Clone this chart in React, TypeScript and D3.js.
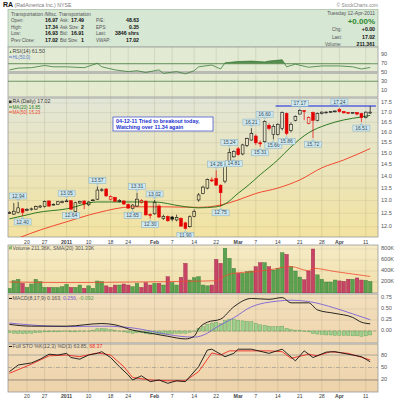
import * as d3 from "d3";

const FONT = "'Liberation Sans', Arial, sans-serif";

// index 0 = 20-Dec-2010, first bar = 14-Dec-2010
const firstIdx = -4;
const opens = [12.52, 12.47, 12.53, 12.67, 12.62, 12.64, 12.66, 12.74, 12.76, 12.98, 12.84, 12.85, 12.91, 12.98, 12.99, 12.57, 12.9, 12.98, 12.83, 13.0, 13.05, 13.4, 13.46, 13.05, 13.12, 12.95, 12.98, 12.84, 12.68, 12.78, 12.92, 12.97, 12.45, 12.48, 12.78, 12.31, 12.38, 12.36, 12.25, 12.31, 12.14, 12.0, 12.38, 13.02, 13.28, 13.5, 13.84, 13.9, 13.62, 13.79, 14.55, 14.85, 15.22, 14.98, 15.38, 15.63, 15.82, 15.5, 15.55, 16.35, 15.9, 15.9, 16.2, 16.95, 16.1, 16.6, 16.92, 17.1, 16.45, 17.0, 16.6, 16.95, 17.0, 17.0, 17.05, 17.15, 17.05, 17.0, 16.98, 17.0, 16.95, 16.75, 16.97];
const highs = [12.58, 12.9, 12.94, 12.7, 12.7, 12.72, 12.8, 12.82, 13.0, 13.0, 12.88, 12.98, 12.99, 13.05, 13.0, 12.95, 12.99, 13.0, 12.97, 13.05, 13.57, 13.5, 13.5, 13.2, 13.15, 13.05, 13.0, 12.88, 12.85, 13.31, 13.05, 13.0, 12.5, 13.02, 12.85, 12.45, 12.42, 12.4, 12.45, 12.35, 12.18, 12.42, 12.65, 13.3, 13.6, 13.9, 13.95, 14.26, 13.65, 14.55, 15.24, 15.15, 15.3, 15.45, 15.75, 16.21, 15.9, 15.6, 16.6, 16.45, 16.4, 16.45, 17.05, 17.0, 16.5, 16.85, 17.17, 17.12, 16.8, 17.05, 17.0, 17.05, 17.06, 17.08, 17.1, 17.24, 17.08, 17.03, 17.02, 17.02, 16.98, 17.05, 17.34];
const lows = [12.48, 12.44, 12.5, 12.4, 12.58, 12.6, 12.63, 12.7, 12.72, 12.74, 12.8, 12.83, 12.89, 12.95, 12.64, 12.55, 12.86, 12.66, 12.78, 12.97, 13.02, 13.35, 13.15, 13.0, 12.95, 12.92, 12.82, 12.68, 12.65, 12.75, 12.88, 12.42, 12.3, 12.45, 12.32, 12.25, 12.18, 12.2, 12.2, 12.0, 11.9, 11.97, 12.35, 12.95, 13.25, 13.45, 13.75, 13.6, 12.75, 13.7, 14.5, 14.81, 14.9, 14.92, 15.3, 15.6, 15.4, 15.31, 15.5, 16.1, 15.66, 15.85, 16.1, 15.86, 16.0, 16.55, 16.9, 16.6, 16.4, 15.72, 16.55, 16.9, 16.96, 16.98, 17.0, 17.0, 16.95, 16.92, 16.94, 16.85, 16.51, 16.7, 16.93];
const closes = [12.53, 12.58, 12.71, 12.54, 12.64, 12.67, 12.76, 12.78, 12.96, 12.78, 12.85, 12.95, 12.96, 12.98, 12.66, 12.91, 12.96, 12.86, 12.94, 13.02, 13.42, 13.43, 13.18, 13.15, 12.97, 13.0, 12.86, 12.7, 12.82, 13.05, 13.0, 12.44, 12.43, 12.93, 12.36, 12.38, 12.22, 12.28, 12.34, 12.02, 11.94, 12.37, 12.57, 13.22, 13.54, 13.86, 13.8, 13.62, 13.31, 14.49, 15.05, 15.1, 14.95, 15.4, 15.7, 15.95, 15.5, 15.45, 16.55, 16.2, 16.3, 16.4, 17.0, 15.95, 16.4, 16.8, 17.1, 17.05, 16.75, 16.6, 16.95, 17.02, 17.02, 17.05, 17.08, 17.05, 16.98, 16.96, 16.99, 16.92, 16.75, 17.02, 17.02];
// volume in thousands of shares
const volumesK = [85, 224, 249, 176, 103, 164, 249, 206, 103, 103, 103, 100, 115, 158, 103, 103, 145, 85, 130, 85, 218, 206, 130, 103, 145, 145, 164, 145, 115, 176, 103, 188, 145, 176, 176, 145, 297, 188, 145, 285, 540, 236, 279, 297, 145, 130, 145, 612, 540, 812, 630, 448, 358, 358, 388, 400, 479, 552, 552, 479, 418, 450, 733, 703, 479, 400, 290, 240, 400, 800, 330, 250, 200, 200, 236, 220, 212, 250, 250, 274, 236, 230, 211];

const ma20Idx = [-4, 0, 2, 9, 16, 24, 29, 35, 39, 43, 45, 48, 50, 53, 57, 60, 64, 68, 72, 76, 78];
const ma20Vals = [12.29, 12.44, 12.52, 12.67, 12.94, 12.94, 12.94, 12.78, 12.71, 12.75, 12.86, 13.29, 13.57, 14.06, 14.71, 15.31, 15.98, 16.37, 16.62, 16.77, 16.85];
const ma50Idx = [-2, 3, 9, 16, 24, 31, 39, 44, 48, 52, 57, 62, 67, 72, 78];
const ma50Vals = [11.59, 11.88, 12.18, 12.52, 12.75, 12.75, 12.73, 12.82, 13.02, 13.28, 13.5, 13.84, 14.36, 14.71, 15.23];

const volSmaIdx = [-4, 10, 24, 38, 43, 45, 47, 52, 55, 60, 64, 65, 70, 74, 78];
const volSmaVals = [200, 190, 200, 215, 225, 310, 360, 390, 420, 480, 405, 450, 390, 345, 301];

const rsiIdx = [-4, -2, 1, 4, 6, 9, 13, 16, 17, 20, 23, 25, 27, 30, 31, 34, 36, 38, 39, 42, 44, 45, 48, 51, 54, 55, 58, 59, 61, 64, 67, 71, 74, 76, 78];
const rsiVals = [56, 60, 61, 66, 63, 63, 61, 71, 63, 56, 52, 54, 50, 56, 48, 52, 47, 54, 63, 67, 58, 72, 75, 76, 74, 76, 79, 63, 69, 62, 65, 65, 63, 58, 61.5];

const macdIdx = [-4, 1, 9, 17, 20, 24, 28, 32, 36, 38, 39, 41, 44, 47, 51, 55, 58, 60, 64, 66, 70, 74, 76, 78];
const macdVals = [0.15, 0.11, 0.11, 0.17, 0.14, 0.02, -0.05, -0.12, -0.18, -0.12, 0.05, 0.2, 0.27, 0.55, 0.74, 0.72, 0.76, 0.64, 0.64, 0.48, 0.4, 0.31, 0.2, 0.163];
const signalIdx = [-4, 9, 17, 24, 28, 32, 38, 41, 43, 47, 51, 57, 60, 64, 70, 74, 78];
const signalVals = [0.18, 0.1, 0.11, 0.07, 0.0, -0.08, -0.14, -0.05, 0.08, 0.3, 0.55, 0.68, 0.7, 0.67, 0.52, 0.39, 0.256];
const histVals = [-0.04, -0.05, -0.05, -0.06, -0.05, -0.05, -0.04, -0.03, -0.02, -0.02, -0.02, -0.02, -0.01, -0.01, -0.02, -0.02, -0.01, -0.01, 0.0, 0.02, 0.05, 0.06, 0.05, 0.03, 0.02, 0.0, -0.02, -0.04, -0.05, -0.04, -0.04, -0.06, -0.07, -0.06, -0.07, -0.07, -0.07, -0.06, -0.05, -0.05, -0.05, -0.03, 0.0, 0.06, 0.1, 0.15, 0.18, 0.2, 0.17, 0.24, 0.27, 0.27, 0.24, 0.23, 0.22, 0.21, 0.17, 0.14, 0.13, 0.11, 0.1, 0.1, 0.11, 0.06, 0.03, 0.02, 0.02, 0.0, -0.02, -0.06, -0.07, -0.08, -0.09, -0.09, -0.1, -0.1, -0.1, -0.1, -0.11, -0.11, -0.12, -0.11, -0.09];

const stoKIdx = [-4, -2, 1, 3, 5, 7, 9, 10, 12, 14, 16, 17, 19, 21, 23, 24, 26, 28, 30, 32, 34, 36, 39, 41, 42, 45, 47, 48, 51, 55, 58, 61, 63, 65, 68, 70, 73, 76, 78];
const stoKVals = [40, 56, 61, 70, 82, 80, 84, 74, 70, 80, 84, 88, 74, 52, 32, 20, 30, 16, 20, 12, 18, 16, 52, 92, 94, 76, 84, 94, 94, 84, 94, 66, 90, 74, 87, 88, 82, 76, 63.85];
const stoDIdx = [-4, 1, 5, 9, 12, 16, 19, 22, 24, 28, 32, 36, 39, 42, 44, 46, 55, 58, 60, 64, 66, 69, 73, 78];
const stoDVals = [36, 58, 78, 80, 76, 85, 80, 52, 26, 20, 18, 18, 40, 85, 80, 90, 90, 88, 72, 82, 78, 88, 84, 68.37];

const highLabelIdx = [-2, 9, 16, 25, 29, 43, 46, 51, 54, 62, 71];
const lowLabelIdx = [-1, 10, 24, 28, 36, 44, 47, 53, 56, 59, 65, 76];

const tickIdx = [0, 4, 9, 14, 19, 23, 29, 33, 38, 43, 48, 52, 57, 62, 67, 71, 77];
const tickLabels = ["20", "27", "2011", "10", "18", "24", "Feb", "7", "14", "22", "Mar", "7", "14", "21", "28", "Apr", "11"];

const priceTicks = [12, 12.5, 13, 13.5, 14, 14.5, 15, 15.5, 16, 16.5, 17, 17.5];
const rsiTicks = [90, 70, 50, 30, 10];
const volTicks = [200, 400, 600, 800];
const macdTicks = [0, 0.25, 0.5, 0.75];
const stoTicks = [80, 50, 20];
const resistance = 17.34;

const L = 8;
const R = 378;
const W = R - L;

export default function App() {
  const x = d3.scaleLinear().domain([0, 77]).range([27, 365.8]);
  const bars = opens.map((o, k) => ({
    i: k + firstIdx,
    o,
    h: highs[k],
    l: lows[k],
    c: closes[k],
    v: volumesK[k],
    up: k === 0 ? closes[k] >= o : closes[k] >= closes[k - 1],
  }));

  const rsiPanel = [47, 97];
  const pricePanel = [98, 237];
  const volPanel = [245, 293];
  const macdPanel = [294, 343];
  const stoPanel = [344, 392];

  const rsiY = d3.scaleLinear().domain([0, 100]).range([94.4, 50.6]);
  const priceY = d3.scaleLog().domain([12, 17.5]).range([226.7, 103]);
  const volY = d3.scaleLinear().domain([0, 800]).range([293, 249]);
  const macdY = d3.scaleLinear().domain([0, 0.75]).range([331, 298]);
  const stoY = d3.scaleLinear().domain([0, 100]).range([388.3, 346.7]);

  const pts = (idx: number[], vals: number[]) => idx.map((i, k) => [i, vals[k]] as [number, number]);
  const lineOf = (scale: (v: number) => number, smooth = false) => {
    const g = d3
      .line<[number, number]>()
      .x((d) => x(d[0]))
      .y((d) => scale(d[1]));
    return smooth ? g.curve(d3.curveMonotoneX) : g;
  };

  const rsiPts = pts(rsiIdx, rsiVals);
  const rsiArea = d3
    .area<[number, number]>()
    .x((d) => x(d[0]))
    .y0(rsiY(70))
    .y1((d) => rsiY(d[1]));

  const panelRect = (p: number[], fill: string, id: string) => (
    <g>
      <clipPath id={id}>
        <rect x={L} y={p[0]} width={W} height={p[1] - p[0]} />
      </clipPath>
      <rect x={L} y={p[0]} width={W} height={p[1] - p[0]} fill={fill} stroke="#9a9a9a" strokeWidth={0.8} />
    </g>
  );
  const vGrid = (p: number[], color = "rgba(90,90,60,0.22)") =>
    tickIdx.map((t) => <line key={t} x1={x(t)} x2={x(t)} y1={p[0]} y2={p[1]} stroke={color} strokeWidth={0.6} />);
  const axisText = (y: number, text: string, key: string | number) => (
    <text key={key} x={381} y={y} fontSize={5.6} fill="#555" dominantBaseline="middle">
      {text}
    </text>
  );

  const hdrRows = [
    ["Open:", "16.97", "Ask:", "17.49", "P/E:", "48.63"],
    ["High:", "17.34", "Ask Size:", "2", "EPS:", "0.35"],
    ["Low:", "16.93", "Bid:", "16.91", "Last:", "3846 shrs"],
    ["Prev Close:", "17.02", "Bid Size:", "1", "VWAP:", "17.02"],
  ];
  const hdrY = [20, 26.7, 33.3, 40];

  const labelBox = (i: number, v: number, above: boolean, key: string) => {
    const cx = x(i);
    const yv = priceY(v);
    const bw = 17;
    const bh = 6;
    const by = above ? yv - 3 - bh : yv + 3;
    const tip = above ? `M${cx - 1.5},${by + bh} L${cx + 1.5},${by + bh} L${cx},${yv - 1} Z` : `M${cx - 1.5},${by} L${cx + 1.5},${by} L${cx},${yv + 1} Z`;
    return (
      <g key={key}>
        <path d={tip} fill="#c9e3ec" stroke="#86aebb" strokeWidth={0.4} />
        <rect x={cx - bw / 2} y={by} width={bw} height={bh} fill="#cfe7ef" stroke="#86aebb" strokeWidth={0.5} />
        <text x={cx} y={by + bh / 2 + 0.3} fontSize={5} fill="#37505c" textAnchor="middle" dominantBaseline="middle">
          {v.toFixed(2)}
        </text>
      </g>
    );
  };

  return (
    <svg width={400} height={400} style={{ position: "absolute", left: 0, top: 0, background: "#fff" }} fontFamily={FONT}>
      <defs>
        <linearGradient id="gPrice" x1="0" y1="0" x2="0" y2="1">
          <stop offset="0" stopColor="#e2e6d6" />
          <stop offset="1" stopColor="#f3e3a1" />
        </linearGradient>
        <linearGradient id="gRsi" x1="0" y1="0" x2="0" y2="1">
          <stop offset="0" stopColor="#e1ead4" />
          <stop offset="1" stopColor="#e6ebcf" />
        </linearGradient>
        <linearGradient id="gVol" x1="0" y1="0" x2="0" y2="1">
          <stop offset="0" stopColor="#f5ebc6" />
          <stop offset="1" stopColor="#f1dfaa" />
        </linearGradient>
        <linearGradient id="gMacd" x1="0" y1="0" x2="0" y2="1">
          <stop offset="0" stopColor="#f2dfbd" />
          <stop offset="1" stopColor="#efd6ae" />
        </linearGradient>
        <linearGradient id="gSto" x1="0" y1="0" x2="0" y2="1">
          <stop offset="0" stopColor="#f1dcb9" />
          <stop offset="1" stopColor="#eed3aa" />
        </linearGradient>
        <clipPath id="rsiAbove">
          <rect x={L} y={rsiPanel[0]} width={W} height={rsiY(70) - rsiPanel[0]} />
        </clipPath>
      </defs>

      {/* title */}
      <text x={3} y={6.5} fontSize={7} fill="#111">
        <tspan fontWeight="bold">RA</tspan>
        <tspan fontSize={5.2} fill="#777"> (RailAmerica Inc.) NYSE</tspan>
      </text>
      <text x={R} y={6.5} fontSize={4.8} fill="#888" textAnchor="end">
        © StockCharts.com
      </text>

      {/* header box */}
      <rect x={L} y={9.5} width={W} height={37.5} fill="#d6e7d4" stroke="#9fb79d" strokeWidth={0.7} />
      <text x={11} y={15.5} fontSize={5} fill="#555">
        Transportation /Misc. Transportation
      </text>
      {hdrRows.map((r, k) => (
        <g key={k}>
          <text x={11} y={hdrY[k] + 2} fill="#555" fontSize={4.6}>{r[0]}</text>
          <text x={58} y={hdrY[k] + 2} fill="#111" fontSize={5.2} fontWeight="bold" textAnchor="end">{r[1]}</text>
          <text x={60} y={hdrY[k] + 2} fill="#555" fontSize={4.6}>{r[2]}</text>
          <text x={84} y={hdrY[k] + 2} fill="#111" fontSize={5.2} fontWeight="bold" textAnchor="end">{r[3]}</text>
          <text x={96} y={hdrY[k] + 2} fill="#555" fontSize={4.6}>{r[4]}</text>
          <text x={139} y={hdrY[k] + 2} fill="#111" fontSize={5.2} fontWeight="bold" textAnchor="end">{r[5]}</text>
        </g>
      ))}
      <text x={375} y={15} fontSize={5} fill="#555" textAnchor="end">Tuesday 12-Apr-2011</text>
      <text x={375} y={23.5} fontSize={8} fill="#2f8a2f" fontWeight="bold" textAnchor="end">+0.00%</text>
      <text x={332} y={31} fontSize={4.6} fill="#555">Chg:</text>
      <text x={375} y={31} fontSize={5.2} fill="#111" fontWeight="bold" textAnchor="end">+0.00</text>
      <text x={332} y={38.5} fontSize={4.6} fill="#555">Last:</text>
      <text x={375} y={38.5} fontSize={5.2} fill="#111" fontWeight="bold" textAnchor="end">17.02</text>
      <text x={325} y={45.5} fontSize={4.6} fill="#555">Volume:</text>
      <text x={375} y={45.5} fontSize={5.2} fill="#111" fontWeight="bold" textAnchor="end">211,361</text>

      {/* RSI panel */}
      {panelRect(rsiPanel, "url(#gRsi)", "cRsi")}
      {vGrid(rsiPanel)}
      <line x1={L} x2={R} y1={rsiY(50)} y2={rsiY(50)} stroke="#b9bab4" strokeWidth={3} />
      <line x1={L} x2={R} y1={rsiY(70)} y2={rsiY(70)} stroke="#4f7f4c" strokeWidth={0.8} />
      <line x1={L} x2={R} y1={rsiY(30)} y2={rsiY(30)} stroke="#4f7f4c" strokeWidth={0.8} />
      <g clipPath="url(#rsiAbove)">
        <path d={rsiArea(rsiPts) ?? ""} fill="#3f7d37" opacity={0.85} />
      </g>
      <path d={lineOf(rsiY)(rsiPts) ?? ""} fill="none" stroke="#3a7d3a" strokeWidth={0.8} />
      {rsiTicks.map((t) => axisText(rsiY(t), String(t), "r" + t))}
      <path d="M9.5,53 L11.5,53 L10.5,50.5 Z" fill="#3a8a3a" />
      <text x={12.5} y={53.3} fontSize={5.2} fill="#444">RSI(14) 61.50</text>
      <line x1={9} x2={12} y1={57} y2={57} stroke="#5577cc" strokeWidth={1} />
      <text x={12.5} y={58.6} fontSize={4.6} fill="#5577cc">HL(50.0)</text>

      {/* price panel */}
      {panelRect(pricePanel, "url(#gPrice)", "cPrice")}
      {vGrid(pricePanel)}
      {priceTicks.map((t) => (
        <line key={t} x1={L} x2={R} y1={priceY(t)} y2={priceY(t)} stroke="rgba(90,90,60,0.16)" strokeWidth={0.6} />
      ))}
      {priceTicks.map((t) => axisText(priceY(t), t.toFixed(1), "p" + t))}
      <g clipPath="url(#cPrice)">
        <path d={lineOf(priceY, true)(pts(ma50Idx, ma50Vals)) ?? ""} fill="none" stroke="#f04a30" strokeWidth={1} />
        <path d={lineOf(priceY, true)(pts(ma20Idx, ma20Vals)) ?? ""} fill="none" stroke="#2f7a22" strokeWidth={1} />
        <line x1={x(56.5)} x2={x(79.3)} y1={priceY(resistance)} y2={priceY(resistance)} stroke="#1020e0" strokeWidth={1.2} />
        {bars.map((b) => {
          const cx = x(b.i);
          const col = b.up ? "#111" : "#e30000";
          const top = priceY(Math.max(b.o, b.c));
          const bot = priceY(Math.min(b.o, b.c));
          const bh = Math.max(bot - top, 0.8);
          const filled = b.c < b.o;
          return (
            <g key={b.i}>
              <line x1={cx} x2={cx} y1={priceY(b.h)} y2={top} stroke={col} strokeWidth={0.7} />
              <line x1={cx} x2={cx} y1={top + bh} y2={priceY(b.l)} stroke={col} strokeWidth={0.7} />
              <rect x={cx - 1.4} y={top} width={2.8} height={bh} fill={filled ? col : "none"} stroke={col} strokeWidth={0.6} />
            </g>
          );
        })}
        {highLabelIdx.map((i) => labelBox(i, highs[i - firstIdx], true, "h" + i))}
        {lowLabelIdx.map((i) => labelBox(i, lows[i - firstIdx], false, "l" + i))}
      </g>
      <rect x={9} y={100.5} width={2.6} height={2.6} fill="#333" />
      <text x={12.5} y={103.3} fontSize={5.2} fill="#333">RA (Daily) 17.02</text>
      <line x1={9} x2={12} y1={107} y2={107} stroke="#2f7a22" strokeWidth={1} />
      <text x={12.5} y={108.6} fontSize={4.6} fill="#2f7a22">MA(20) 16.85</text>
      <line x1={9} x2={12} y1={112} y2={112} stroke="#f04a30" strokeWidth={1} />
      <text x={12.5} y={113.6} fontSize={4.6} fill="#f04a30">MA(50) 15.23</text>

      {/* annotation */}
      <rect x={113} y={117} width={100} height={14} fill="#fff" stroke="#3344cc" strokeWidth={0.7} />
      <text x={116} y={122.6} fontSize={5.4} fill="#1a2fd0" fontWeight="bold">04-12-11 Tried to breakout today,</text>
      <text x={116} y={129} fontSize={5.4} fill="#1a2fd0" fontWeight="bold">Watching over 11.34 again</text>

      {/* date labels middle */}
      {tickIdx.map((t, k) => (
        <text key={"dm" + t} x={x(t)} y={243.8} fontSize={5.2} fill="#444" textAnchor="middle" fontWeight={/[A-Za-z]|2011/.test(tickLabels[k]) ? "bold" : "normal"}>
          {tickLabels[k]}
        </text>
      ))}

      {/* volume panel */}
      {panelRect(volPanel, "url(#gVol)", "cVol")}
      {vGrid(volPanel)}
      {volTicks.map((t) => (
        <line key={t} x1={L} x2={R} y1={volY(t)} y2={volY(t)} stroke="rgba(90,90,60,0.16)" strokeWidth={0.6} />
      ))}
      {volTicks.map((t) => axisText(volY(t), t + "K", "v" + t))}
      <g clipPath="url(#cVol)">
        {bars.map((b) => (
          <rect
            key={b.i}
            x={x(b.i) - 1.8}
            y={volY(b.v)}
            width={3.6}
            height={volY(0) - volY(b.v)}
            fill={b.up ? "#4b9b45" : "#c4345e"}
            stroke={b.up ? "#2e6e2a" : "#8e1d40"}
            strokeWidth={0.4}
            opacity={0.9}
          />
        ))}
        <path d={lineOf(volY, true)(pts(volSmaIdx, volSmaVals)) ?? ""} fill="none" stroke="#ef4a2e" strokeWidth={0.8} />
      </g>
      <rect x={9.3} y={246.5} width={1} height={2.8} fill="#4b9b45" />
      <rect x={10.6} y={245.7} width={1} height={3.6} fill="#4b9b45" />
      <text x={12.5} y={249.5} fontSize={5.2} fill="#555">Volume 211.36K, SMA(20) 301.33K</text>

      {/* MACD panel */}
      {panelRect(macdPanel, "url(#gMacd)", "cMacd")}
      {vGrid(macdPanel)}
      {macdTicks.map((t) => (
        <line key={t} x1={L} x2={R} y1={macdY(t)} y2={macdY(t)} stroke="rgba(90,90,60,0.16)" strokeWidth={0.6} />
      ))}
      {macdTicks.map((t) => axisText(macdY(t), t.toFixed(2), "m" + t))}
      <g clipPath="url(#cMacd)">
        <line x1={L} x2={R} y1={macdY(0)} y2={macdY(0)} stroke="#8a8a7a" strokeWidth={0.6} strokeDasharray="3,2" />
        {bars.map((b, k) => {
          const h = histVals[k];
          const y0 = macdY(0);
          const y1 = macdY(h);
          return (
            <rect key={b.i} x={x(b.i) - 1.6} y={Math.min(y0, y1)} width={3.2} height={Math.max(Math.abs(y1 - y0), 0.3)} fill="#9fcf8e" stroke="#5e9e55" strokeWidth={0.4} />
          );
        })}
        <path d={lineOf(macdY, true)(pts(signalIdx, signalVals)) ?? ""} fill="none" stroke="#7b62d8" strokeWidth={0.9} />
        <path d={lineOf(macdY, true)(pts(macdIdx, macdVals)) ?? ""} fill="none" stroke="#111" strokeWidth={0.9} />
      </g>
      <line x1={9} x2={12} y1={298.5} y2={298.5} stroke="#111" strokeWidth={1} />
      <text x={12.5} y={300} fontSize={5.2} fill="#555">
        MACD(8,17,9) 0.163, <tspan fill="#7b62d8">0.256</tspan>, <tspan fill="#5ea055">-0.092</tspan>
      </text>

      {/* Stochastics panel */}
      {panelRect(stoPanel, "url(#gSto)", "cSto")}
      {vGrid(stoPanel)}
      <line x1={L} x2={R} y1={stoY(80)} y2={stoY(80)} stroke="#9c9a90" strokeWidth={0.8} />
      <line x1={L} x2={R} y1={stoY(50)} y2={stoY(50)} stroke="#9c9a90" strokeWidth={0.7} strokeDasharray="4,1.5,1,1.5" />
      <line x1={L} x2={R} y1={stoY(20)} y2={stoY(20)} stroke="#7c7a70" strokeWidth={0.8} />
      {stoTicks.map((t) => axisText(stoY(t), String(t), "s" + t))}
      <g clipPath="url(#cSto)">
        <path d={lineOf(stoY)(pts(stoDIdx, stoDVals)) ?? ""} fill="none" stroke="#ee2a22" strokeWidth={0.9} />
        <path d={lineOf(stoY)(pts(stoKIdx, stoKVals)) ?? ""} fill="none" stroke="#111" strokeWidth={0.9} />
      </g>
      <line x1={9} x2={12} y1={346.5} y2={346.5} stroke="#111" strokeWidth={1} />
      <text x={12.5} y={348} fontSize={5.2} fill="#555">
        Full STO %K(12,3) %D(3) 63.85, <tspan fill="#ee2a22">68.37</tspan>
      </text>

      {/* date labels bottom */}
      {tickIdx.map((t, k) => (
        <text key={"db" + t} x={x(t)} y={398.3} fontSize={5.2} fill="#444" textAnchor="middle" fontWeight={/[A-Za-z]|2011/.test(tickLabels[k]) ? "bold" : "normal"}>
          {tickLabels[k]}
        </text>
      ))}
    </svg>
  );
}
